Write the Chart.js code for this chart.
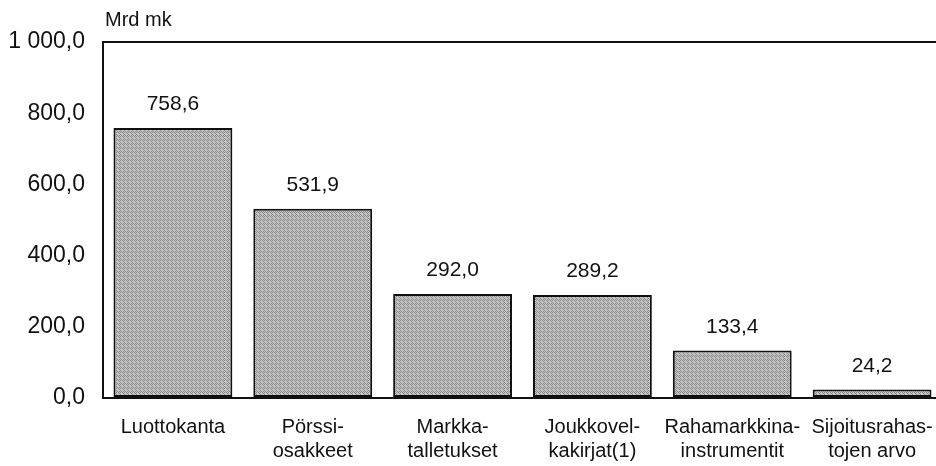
<!DOCTYPE html>
<html>
<head>
<meta charset="utf-8">
<script src="https://cdn.jsdelivr.net/npm/chart.js@4/dist/chart.umd.min.js"></script>
<style>
  html, body { margin: 0; padding: 0; background: #fff; overflow: hidden; }
  #wrap { width: 942px; height: 466px; }
</style>
</head>
<body>
<div id="wrap"><canvas id="chart" width="942" height="466"></canvas></div>
<script>
const categories = [
  'Luottokanta',
  ['Pörssi-', 'osakkeet'],
  ['Markka-', 'talletukset'],
  ['Joukkovel-', 'kakirjat(1)'],
  ['Rahamarkkina-', 'instrumentit'],
  ['Sijoitusrahas-', 'tojen arvo']
];
const values = [758.6, 531.9, 292.0, 289.2, 133.4, 24.2];
const yTicks = [0, 200, 400, 600, 800, 1000];
const unitLabel = 'Mrd mk';

const FONT = '"Liberation Sans", Arial, sans-serif';

function fiNum(v) {
  const parts = v.toFixed(1).split('.');
  const int = parts[0].replace(/\B(?=(\d{3})+(?!\d))/g, ' ');
  return int + ',' + parts[1];
}

// stippled grey like the printed original
function stipple() {
  const c = document.createElement('canvas');
  c.width = 4; c.height = 4;
  const g = c.getContext('2d');
  g.fillStyle = '#c4c4c4';
  g.fillRect(0, 0, 4, 4);
  g.fillStyle = '#8a8a8a';
  [[0,0],[2,0],[1,1],[3,1],[0,2],[2,2],[1,3],[3,3]].forEach(([x, y], i) => {
    if (i % 3 !== 2) g.fillRect(x, y, 1, 1);
  });
  return g.createPattern(c, 'repeat');
}

const valueLabels = {
  id: 'valueLabels',
  afterDatasetsDraw(chart) {
    const ctx = chart.ctx;
    ctx.save();
    ctx.font = '21px ' + FONT;
    ctx.fillStyle = '#111';
    ctx.textAlign = 'center';
    ctx.textBaseline = 'bottom';
    chart.getDatasetMeta(0).data.forEach((bar, i) => {
      ctx.fillText(fiNum(values[i]), bar.x, bar.y - 13);
    });
    ctx.restore();
  }
};

const unitTitle = {
  id: 'unitTitle',
  afterDraw(chart) {
    const ctx = chart.ctx;
    ctx.save();
    ctx.font = '20px ' + FONT;
    ctx.fillStyle = '#111';
    ctx.textAlign = 'left';
    ctx.textBaseline = 'middle';
    ctx.fillText(unitLabel, chart.chartArea.left + 2, 20);
    ctx.restore();
  }
};

new Chart(document.getElementById('chart'), {
  type: 'bar',
  data: {
    labels: categories,
    datasets: [{
      data: values,
      backgroundColor: stipple(),
      borderColor: '#111',
      borderWidth: 2,
      borderSkipped: false,
      barPercentage: 0.85,
      categoryPercentage: 1
    }]
  },
  options: {
    responsive: false,
    animation: false,
    layout: { padding: { top: 42, left: 0, right: 0, bottom: 0 } },
    plugins: {
      legend: { display: false },
      tooltip: { enabled: false }
    },
    scales: {
      x: {
        grid: { display: false },
        border: { display: true, color: '#111', width: 2 },
        ticks: {
          color: '#111',
          font: { family: FONT, size: 20 },
          padding: 9,
          maxRotation: 0,
          autoSkip: false
        },
        afterFit(scale) { scale.height = 68; }
      },
      y: {
        min: 0,
        max: 1000,
        afterBuildTicks(scale) { scale.ticks = yTicks.map(v => ({ value: v })); },
        grid: {
          drawTicks: false,
          color: ctx => ctx.tick && ctx.tick.value === 1000 ? '#111' : 'rgba(0,0,0,0)',
          lineWidth: 2
        },
        border: { display: true, color: '#111', width: 2 },
        ticks: {
          color: '#111',
          font: { family: FONT, size: 23 },
          padding: 18,
          callback: v => fiNum(v)
        },
        afterFit(scale) { scale.width = 103; }
      }
    }
  },
  plugins: [valueLabels, unitTitle]
});
</script>
</body>
</html>
